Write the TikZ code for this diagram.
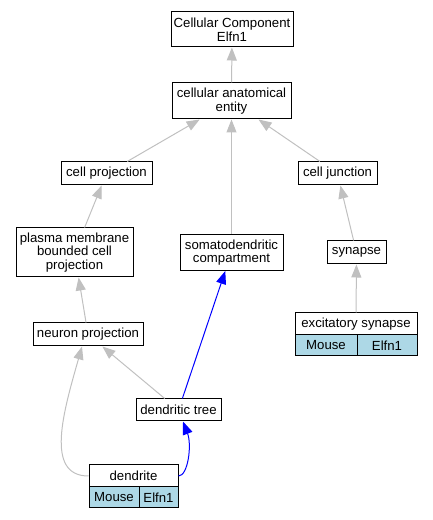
\documentclass[tikz,border=0pt]{standalone}
\usepackage{fontspec}
\setmainfont{Liberation Sans}
\usetikzlibrary{arrows.meta}
\definecolor{edgegray}{RGB}{192,192,192}
\definecolor{cellblue}{RGB}{173,216,230}
\begin{document}
\begin{tikzpicture}[x=1pt,y=1pt,
  box/.style={draw=black, fill=white, line width=1pt, inner sep=0pt, align=center,
    font=\fontsize{13.2}{13.5}\selectfont},
  cellbox/.style={box, fill=cellblue},
  garrow/.style={draw=edgegray, line width=1pt, -{Triangle[length=13pt,width=10pt]}},
  barrow/.style={draw=blue, line width=1pt, -{Triangle[length=13pt,width=10pt]}}]
\useasboundingbox (0,0) rectangle (432,520);

\node[box, minimum width=122, minimum height=35] (cc) at (232,490.5) {Cellular Component\\Elfn1};
\node[box, minimum width=119, minimum height=36] (cae) at (231.5,419) {cellular anatomical\\entity};
\node[box, minimum width=91, minimum height=23] (cp) at (106.5,346.5) {cell projection};
\node[box, minimum width=79, minimum height=23] (cj) at (337.5,346.5) {cell junction};
\node[box, minimum width=117, minimum height=49] (pm) at (74.5,267.5) {plasma membrane\\bounded cell\\projection};
\node[box, minimum width=103, minimum height=36] (sd) at (231.5,267.5) {somatodendritic\\compartment};
\node[box, minimum width=59, minimum height=23] (syn) at (356.5,267.5) {synapse};
\node[box, minimum width=110, minimum height=23] (np) at (88,185.5) {neuron projection};
\node[box, minimum width=122, minimum height=22] (es) at (356,196) {excitatory synapse};
\node[cellbox, minimum width=62, minimum height=21] (esm) at (326,174.5) {Mouse};
\node[cellbox, minimum width=60, minimum height=21] (ese) at (387,174.5) {Elfn1};
\node[box, minimum width=85, minimum height=22] (dt) at (178.5,110) {dendritic tree};
\node[box, minimum width=89, minimum height=22] (den) at (133.5,44) {dendrite};
\node[cellbox, minimum width=50, minimum height=21] (denm) at (114,22.5) {Mouse};
\node[cellbox, minimum width=39, minimum height=21] (dene) at (158.5,22.5) {Elfn1};

\draw[garrow] (cae) -- (cc);
\draw[garrow] (cp) -- (cae);
\draw[garrow] (sd) -- (cae);
\draw[garrow] (cj) -- (cae);
\draw[garrow] (pm) -- (cp);
\draw[garrow] (syn) -- (cj);
\draw[garrow] (np) -- (pm);
\draw[garrow] (es) -- (syn);
\draw[garrow] (dt) -- (np);
\draw[barrow] (dt) -- (sd);
\draw[garrow] (den.west) .. controls (44,44) and (64,110) .. ([xshift=-6pt]np.south);
\draw[barrow] (den.east) .. controls (188,44) and (192,75) .. ([xshift=4.5pt]dt.south);
\end{tikzpicture}
\end{document}
